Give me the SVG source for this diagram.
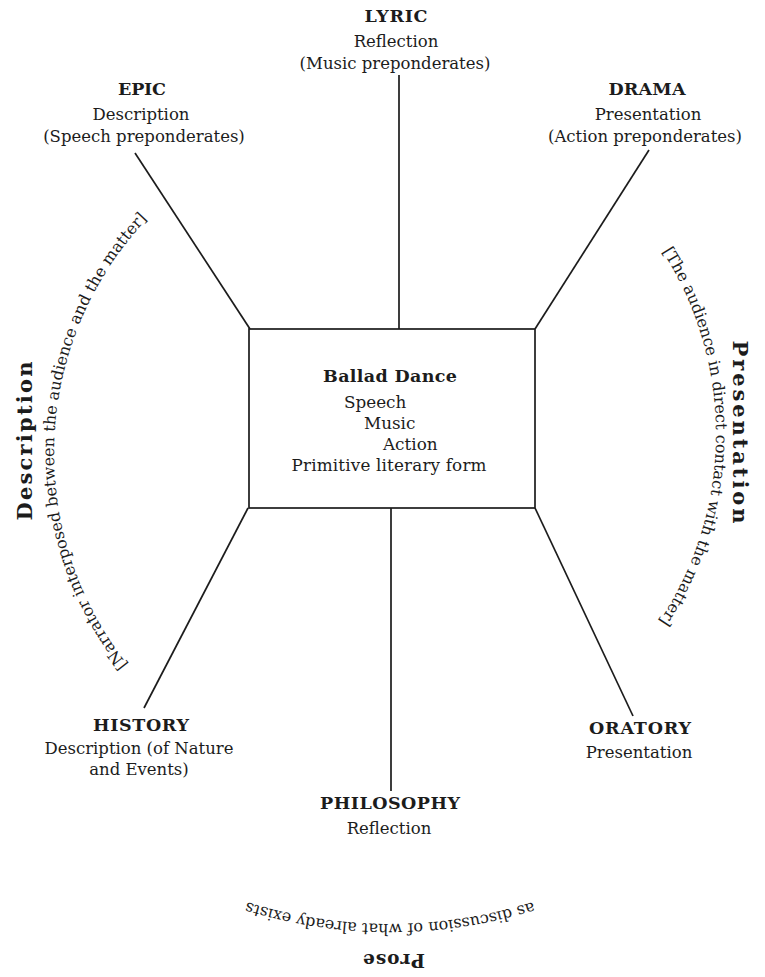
<svg xmlns="http://www.w3.org/2000/svg" width="765" height="977" viewBox="0 0 765 977">
<style>
text{fill:#1c1c1c;font-family:"DejaVu Serif","Liberation Serif",serif}
.h{font-weight:bold;font-size:17.5px;text-anchor:middle}
.b{font-size:16.5px;text-anchor:middle}
.c{font-size:16.8px}
.arc{font-size:16px}
.big{font-weight:bold;font-size:21px;text-anchor:middle}
.prose{font-weight:bold;font-size:18.5px;text-anchor:middle}
.ln{stroke:#1c1c1c;stroke-width:1.7;fill:none}
</style>
<defs>
<path id="arcL" d="M175.8,714.2 A341,341 0 0 1 199.4,173.7"/>
<path id="arcR" d="M595.3,175.1 A338,338 0 0 1 590.7,696.7"/>
<path id="arcB" d="M629,860 A479,479 0 0 1 151,860"/>
</defs>
<rect width="765" height="977" fill="#ffffff"/>
<g id="connectors">
<line class="ln" x1="135" y1="153" x2="250" y2="329"/>
<line class="ln" x1="399" y1="75" x2="399" y2="329"/>
<line class="ln" x1="649" y1="150" x2="535" y2="329"/>
<line class="ln" x1="248" y1="508" x2="144" y2="708"/>
<line class="ln" x1="391" y1="508" x2="391" y2="791"/>
<line class="ln" x1="535" y1="508" x2="633" y2="716"/>
</g>
<g id="ballad">
<rect class="ln" x="249" y="329" width="286" height="179" stroke-width="1.9"/>
<text class="h" x="390" y="382" textLength="134">Ballad Dance</text>
<text class="c" x="344" y="408">Speech</text>
<text class="c" x="364" y="428.5">Music</text>
<text class="c" x="383" y="449.5">Action</text>
<text class="c" x="389" y="471" text-anchor="middle" textLength="195">Primitive literary form</text>
</g>
<g id="lyric">
<text class="h" x="396" y="22" textLength="63">LYRIC</text>
<text class="b" x="396" y="47">Reflection</text>
<text class="b" x="395" y="68.5">(Music preponderates)</text>
</g>
<g id="epic">
<text class="h" x="142" y="95" textLength="48">EPIC</text>
<text class="b" x="141" y="120">Description</text>
<text class="b" x="144" y="142">(Speech preponderates)</text>
</g>
<g id="drama">
<text class="h" x="647" y="95" textLength="77">DRAMA</text>
<text class="b" x="648" y="120">Presentation</text>
<text class="b" x="645" y="142">(Action preponderates)</text>
</g>
<g id="history">
<text class="h" x="141" y="731" textLength="96">HISTORY</text>
<text class="b" x="139" y="754">Description (of Nature</text>
<text class="b" x="139" y="774.5">and Events)</text>
</g>
<g id="oratory">
<text class="h" x="640" y="734" textLength="102">ORATORY</text>
<text class="b" x="639" y="758">Presentation</text>
</g>
<g id="philosophy">
<text class="h" x="390" y="809" textLength="140">PHILOSOPHY</text>
<text class="b" x="389" y="834">Reflection</text>
</g>
<g id="description">
<text class="big" transform="translate(32,441) rotate(-90)" textLength="159">Description</text>
<text class="arc"><textPath href="#arcL" startOffset="50%" text-anchor="middle">[Narrator interposed between the audience and the matter]</textPath></text>
</g>
<g id="presentation">
<text class="big" transform="translate(733,432) rotate(90)" textLength="183">Presentation</text>
<text class="arc"><textPath href="#arcR" startOffset="50%" text-anchor="middle">[The audience in direct contact with the matter]</textPath></text>
</g>
<g id="prose">
<text class="arc"><textPath href="#arcB" startOffset="50%" text-anchor="middle">as discussion of what already exists</textPath></text>
<text class="prose" transform="translate(394,954) rotate(180)" textLength="62">Prose</text>
</g>
</svg>
